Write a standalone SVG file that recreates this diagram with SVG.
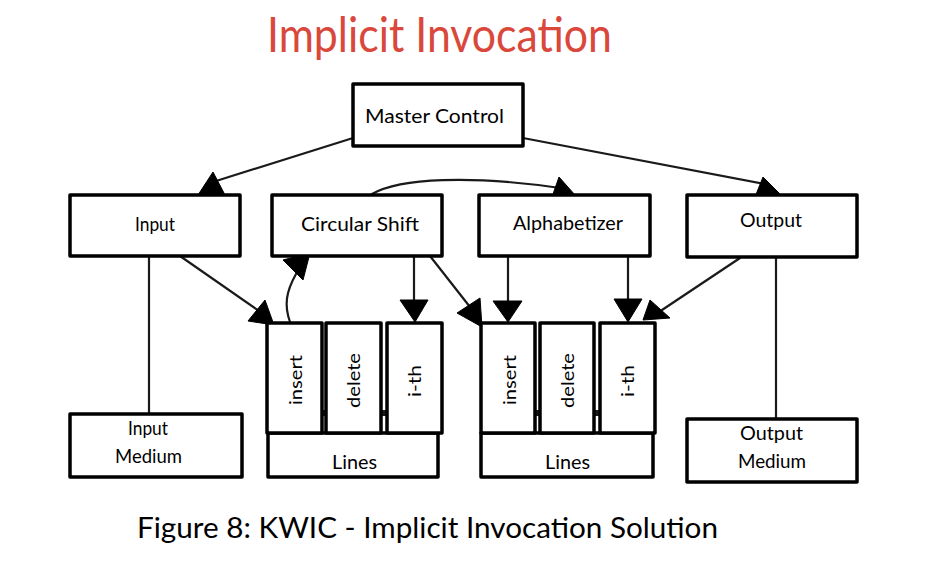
<svg xmlns="http://www.w3.org/2000/svg" width="928" height="569" viewBox="0 0 928 569">
<style>
.box{fill:#fff;stroke:#000;stroke-width:3.5;stroke-linejoin:round}
.ln{fill:none;stroke:#1a1a1a;stroke-width:2.2;stroke-linecap:round}
.head{fill:#000;stroke:#000;stroke-width:1;stroke-linejoin:round}
.t{font-family:Lato,"Noto Sans",sans-serif;font-size:19px;fill:#000}
.v{font-family:Lato,"Noto Sans",sans-serif;font-size:18px;fill:#000}
.title{font-family:Lato,"Noto Sans",sans-serif;font-size:48px;fill:#d9483b}
.cap{font-family:Lato,"Noto Sans",sans-serif;font-size:28px;fill:#000}
</style>
<rect width="928" height="569" fill="#fff"/>
<text class="title" x="267" y="52" textLength="345" lengthAdjust="spacingAndGlyphs">Implicit Invocation</text>

<g id="connectors">
<line class="ln" x1="353" y1="138" x2="216" y2="181"/>
<polygon class="head" points="198,195 213,172 225,195"/>
<line class="ln" x1="523" y1="138" x2="765" y2="184"/>
<polygon class="head" points="755,197 763,177 781,195"/>
<path class="ln" d="M372,194 C400,178 470,175 560,188"/>
<polygon class="head" points="552,197 559,177 575,195"/>
<line class="ln" x1="180" y1="256" x2="259" y2="311"/>
<polygon class="head" points="248,321 265,300 274,325"/>
<path class="ln" d="M290,322 C284,305 286,292 296,274"/>
<polygon class="head" points="283,260 310,253 303,280"/>
<line class="ln" x1="414" y1="256" x2="414" y2="302"/>
<polygon class="head" points="400,300 428,300 415,322"/>
<line class="ln" x1="430" y1="256" x2="470" y2="307"/>
<polygon class="head" points="457,313 480,298 482,327"/>
<line class="ln" x1="508" y1="256" x2="508" y2="302"/>
<polygon class="head" points="493,301 522,301 508,322"/>
<line class="ln" x1="628" y1="256" x2="628" y2="302"/>
<polygon class="head" points="614,299 642,299 628,322"/>
<line class="ln" x1="740" y1="258" x2="662" y2="310"/>
<polygon class="head" points="643,320 650,300 670,318"/>
<line class="ln" x1="149" y1="256" x2="149" y2="414"/>
<line class="ln" x1="776" y1="257" x2="776" y2="419"/>
</g>

<g id="master-control"><rect class="box" x="353" y="84" width="170" height="62"/><text class="t" x="365" y="123" textLength="139" lengthAdjust="spacingAndGlyphs">Master Control</text></g>
<g id="input"><rect class="box" x="70" y="195" width="170" height="61"/><text class="t" x="135" y="231" textLength="40" lengthAdjust="spacingAndGlyphs">Input</text></g>
<g id="circular-shift"><rect class="box" x="272" y="195" width="170" height="61"/><text class="t" x="301" y="231" textLength="118" lengthAdjust="spacingAndGlyphs">Circular Shift</text></g>
<g id="alphabetizer"><rect class="box" x="479" y="195" width="171" height="61"/><text class="t" x="513" y="230" textLength="110" lengthAdjust="spacingAndGlyphs">Alphabetizer</text></g>
<g id="output"><rect class="box" x="687" y="195" width="170" height="62"/><text class="t" x="740" y="227" textLength="62" lengthAdjust="spacingAndGlyphs">Output</text></g>

<g id="lines1">
<rect class="box" x="268" y="433" width="170" height="44"/>
<text class="t" x="332" y="469" textLength="45" lengthAdjust="spacingAndGlyphs">Lines</text>
<line class="ln" x1="322" y1="413" x2="326" y2="413" style="stroke-width:6"/>
<line class="ln" x1="381" y1="413" x2="387" y2="413" style="stroke-width:6"/>
<g id="lines1-insert"><rect class="box" x="267" y="323" width="55" height="110"/><text class="v" transform="translate(302,405) rotate(-90)" textLength="50" lengthAdjust="spacingAndGlyphs">insert</text></g>
<g id="lines1-delete"><rect class="box" x="326" y="323" width="55" height="110"/><text class="v" transform="translate(360,408) rotate(-90)" textLength="55" lengthAdjust="spacingAndGlyphs">delete</text></g>
<g id="lines1-ith"><rect class="box" x="387" y="323" width="55" height="110"/><text class="v" transform="translate(421,397) rotate(-90)" textLength="32" lengthAdjust="spacingAndGlyphs">i-th</text></g>
</g>

<g id="lines2">
<rect class="box" x="481" y="433" width="172" height="44"/>
<text class="t" x="545" y="469" textLength="45" lengthAdjust="spacingAndGlyphs">Lines</text>
<line class="ln" x1="535" y1="413" x2="540" y2="413" style="stroke-width:6"/>
<line class="ln" x1="594" y1="413" x2="600" y2="413" style="stroke-width:6"/>
<g id="lines2-insert"><rect class="box" x="481" y="323" width="54" height="110"/><text class="v" transform="translate(516,405) rotate(-90)" textLength="50" lengthAdjust="spacingAndGlyphs">insert</text></g>
<g id="lines2-delete"><rect class="box" x="540" y="323" width="54" height="110"/><text class="v" transform="translate(574,408) rotate(-90)" textLength="55" lengthAdjust="spacingAndGlyphs">delete</text></g>
<g id="lines2-ith"><rect class="box" x="600" y="323" width="55" height="110"/><text class="v" transform="translate(634,397) rotate(-90)" textLength="32" lengthAdjust="spacingAndGlyphs">i-th</text></g>
</g>

<g id="input-medium"><rect class="box" x="70" y="414" width="172" height="63"/><text class="t" x="128" y="435" textLength="40" lengthAdjust="spacingAndGlyphs">Input</text><text class="t" x="115" y="463" textLength="67" lengthAdjust="spacingAndGlyphs">Medium</text></g>
<g id="output-medium"><rect class="box" x="687" y="419" width="170" height="63"/><text class="t" x="740" y="440" textLength="63" lengthAdjust="spacingAndGlyphs">Output</text><text class="t" x="738" y="468" textLength="68" lengthAdjust="spacingAndGlyphs">Medium</text></g>

<text class="cap" x="137" y="538" textLength="581" lengthAdjust="spacingAndGlyphs">Figure 8: KWIC - Implicit Invocation Solution</text>
</svg>
